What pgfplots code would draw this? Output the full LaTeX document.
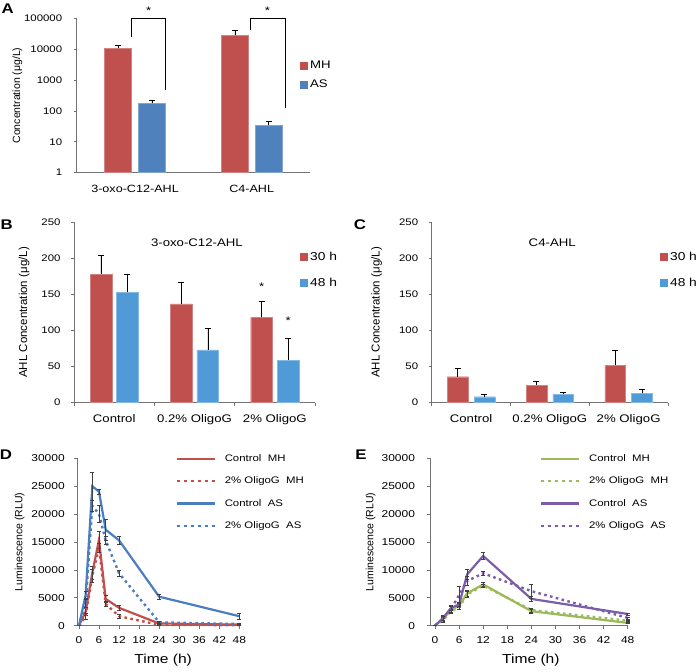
\documentclass[border=0pt]{standalone}
\usepackage{fontspec}
\setmainfont{Liberation Sans}[FakeStretch=1.2]
\newfontfamily\ylfont{Liberation Sans}
\usepackage{pgfplots}
\pgfplotsset{compat=1.18}
\newcommand\FS[1]{\fontsize{#1}{#1}\selectfont}
\definecolor{cRed}{HTML}{C0504D}
\definecolor{cBlue}{HTML}{4F81BD}
\definecolor{cBlueL}{RGB}{80,155,215}
\definecolor{cBlueD}{HTML}{4A7EC0}
\definecolor{cGreen}{HTML}{9BBB59}
\definecolor{cPurple}{HTML}{7B5EA7}
\pgfplotsset{
  exbase/.style={
    scale only axis, anchor=south west, clip=false,
    axis x line*=bottom, axis y line*=left,
    axis line style={black!55, line width=0.7pt},
    tick style={black!55, line width=0.7pt},
    tick align=outside, major tick length=3pt,
    /pgf/number format/assume math mode=true,
    /pgf/number format/1000 sep={},
    scaled y ticks=false,
    ticklabel style={font=\FS{9.5}},
    ylabel style={font=\ylfont\FS{10.5}},
    error bars/error bar style={black, line width=0.5pt},
    error bars/error mark options={rotate=90, black, mark size=3pt, line width=0.5pt},
    legend cell align=left,
  },
  sqbar/.style={ybar, bar shift=0pt, draw=#1!70!white, fill=#1, line width=0.4pt,
     legend image code/.code={\fill[#1] (0pt,-3.5pt) rectangle (7pt,3.5pt);}},
  lnsolid/.style={#1, line width=2.2pt, no markers,
     error bars/error bar style={black!75, line width=0.5pt},
     error bars/error mark options={rotate=90, black!75, mark size=2pt, line width=0.5pt},
     legend image code/.code={\draw[#1, line width=2.2pt] (0pt,0pt) -- (38pt,0pt);}},
  lndot/.style={#1, line width=2.4pt, no markers, dash pattern=on 2.6pt off 3.4pt,
     error bars/error bar style={black!75, line width=0.5pt, solid},
     error bars/error mark options={rotate=90, black!75, mark size=2pt, line width=0.5pt, solid},
     legend image code/.code={\draw[#1, line width=2.4pt, dash pattern=on 3pt off 4pt] (0pt,0pt) -- (38pt,0pt);}},
}
\begin{document}
\begin{tikzpicture}
\useasboundingbox (0,0) rectangle (700pt,671pt);

% panel letters
\node[font=\bfseries\FS{14}] at (7.7pt,662.7pt) {A};
\node[font=\bfseries\FS{14}] at (6.7pt,446pt) {B};
\node[font=\bfseries\FS{14}] at (360pt,446pt) {C};
\node[font=\bfseries\FS{14}] at (6pt,216pt) {D};
\node[font=\bfseries\FS{14}] at (361pt,216pt) {E};

% ---------------- A ----------------
\begin{axis}[exbase, at={(76.7pt,498.3pt)}, width=233.3pt, height=154.4pt,
  ymode=log, ymin=1, ymax=100000, log origin=infty,
  ytick={1,10,100,1000,10000,100000}, yticklabels={1,10,100,1000,10000,100000},
  yticklabel style={xshift=-8pt},
  yminorticks=false,
  xmin=-0.5, xmax=1.5, xtick={0,1}, xticklabels={3-oxo-C12-AHL,C4-AHL},
  x tick style={draw=none}, xticklabel style={font=\FS{10.5}, yshift=-6pt},
  bar width=0.23,
  ylabel={Concentration (μg/L)},
  ylabel style={at={(axis description cs:-0.254,0.5)}, anchor=center},
  legend style={draw=none, fill=none, at={(axis description cs:0.957,0.735)}, anchor=north west,
    inner sep=0pt, row sep=7pt, font=\FS{11}, nodes={inner sep=1.5pt},
    /tikz/every odd column/.append style={column sep=1pt}},
]
\addplot[sqbar=cRed, error bars/.cd, y dir=plus, y explicit]
  coordinates {(-0.145,10700) +- (0,2800) (0.855,28600) +- (0,12900)};
\addlegendentry{MH}
\addplot[sqbar=cBlue, error bars/.cd, y dir=plus, y explicit]
  coordinates {(0.145,176) +- (0,38) (1.145,35) +- (0,13)};
\addlegendentry{AS}
\draw[black, line width=0.8pt] (axis cs:-0.028,25000) |- (axis cs:0.263,100000) -- (axis cs:0.263,475);
\draw[black, line width=0.8pt] (axis cs:0.985,41500) |- (axis cs:1.285,100000) -- (axis cs:1.285,124);
\node[font=\FS{11}, anchor=base, yshift=3.5pt] at (axis cs:0.117,100000) {*};
\node[font=\FS{11}, anchor=base, yshift=3.5pt] at (axis cs:1.135,100000) {*};
\end{axis}

% ---------------- B ----------------
\begin{axis}[exbase, at={(74pt,268.3pt)}, width=241pt, height=180.5pt,
  ymin=0, ymax=250, ytick={0,50,...,250}, yticklabel style={xshift=-7pt},
  xmin=-0.5, xmax=2.5, xtick={-0.5,0.5,1.5,2.5}, xticklabels={},
  extra x ticks={0,1,2}, extra x tick labels={Control,0.2\% OligoG,2\% OligoG},
  extra x tick style={tick style={draw=none}, xticklabel style={font=\FS{11}, yshift=-5pt}},
  bar width=0.27,
  ylabel={AHL Concentration (μg/L)},
  ylabel style={font=\ylfont\FS{11.5}, at={(axis description cs:-0.207,0.5)}, anchor=center},
  legend style={draw=none, fill=none, at={(axis description cs:0.938,0.845)}, anchor=north west,
    inner sep=0pt, row sep=13pt, font=\FS{11.5}, nodes={inner sep=1.5pt},
    /tikz/every odd column/.append style={column sep=1pt}},
]
\addplot[sqbar=cRed, error bars/.cd, y dir=plus, y explicit]
  coordinates {(-0.165,178) +- (0,26) (0.835,137) +- (0,30) (1.835,118) +- (0,22)};
\addlegendentry{30 h}
\addplot[sqbar=cBlueL, error bars/.cd, y dir=plus, y explicit]
  coordinates {(0.165,153) +- (0,25) (1.165,73) +- (0,30) (2.165,59) +- (0,30)};
\addlegendentry{48 h}
\node[font=\FS{11}] at (axis cs:1.03,221) {3-oxo-C12-AHL};
\node[font=\FS{11}, anchor=center] at (axis cs:1.835,160) {*};
\node[font=\FS{11}, anchor=center] at (axis cs:2.165,113) {*};
\end{axis}

% ---------------- C ----------------
\begin{axis}[exbase, at={(431.7pt,268.3pt)}, width=236.3pt, height=180.5pt,
  ymin=0, ymax=250, ytick={0,50,...,250}, yticklabel style={xshift=-7pt},
  xmin=-0.5, xmax=2.5, xtick={-0.5,0.5,1.5,2.5}, xticklabels={},
  extra x ticks={0,1,2}, extra x tick labels={Control,0.2\% OligoG,2\% OligoG},
  extra x tick style={tick style={draw=none}, xticklabel style={font=\FS{11}, yshift=-5pt}},
  bar width=0.263,
  ylabel={AHL Concentration (μg/L)},
  ylabel style={font=\ylfont\FS{11.5}, at={(axis description cs:-0.233,0.5)}, anchor=center},
  legend style={draw=none, fill=none, at={(axis description cs:0.966,0.845)}, anchor=north west,
    inner sep=0pt, row sep=13pt, font=\FS{11.5}, nodes={inner sep=1.5pt},
    /tikz/every odd column/.append style={column sep=1pt}},
]
\addplot[sqbar=cRed, error bars/.cd, y dir=plus, y explicit]
  coordinates {(-0.17,36) +- (0,11.6) (0.83,24.5) +- (0,5.5) (1.83,52) +- (0,20)};
\addlegendentry{30 h}
\addplot[sqbar=cBlueL, error bars/.cd, y dir=plus, y explicit]
  coordinates {(0.17,8.3) +- (0,3.3) (1.17,11.6) +- (0,2.8) (2.17,13) +- (0,5.6)};
\addlegendentry{48 h}
\node[font=\FS{11}] at (axis cs:1.03,221) {C4-AHL};
\end{axis}

% ---------------- D ----------------
\begin{axis}[exbase, at={(77.3pt,45.3pt)}, width=162pt, height=167.4pt,
  xmin=-0.5, xmax=48, xtick={0,6,...,48},
  ymin=0, ymax=30000, ytick={0,5000,...,30000},
  ticklabel style={font=\FS{10}}, yticklabel style={xshift=-6pt}, xticklabel style={yshift=-4pt},
  xlabel={Time (h)}, xlabel style={font=\FS{13}, at={(axis description cs:0.53,-0.205)}, anchor=center},
  ylabel={Luminescence (RLU)},
  ylabel style={at={(axis description cs:-0.356,0.5)}, anchor=center},
  legend style={draw=none, fill=none, at={(axis description cs:0.604,1.03)}, anchor=north west,
    inner sep=0pt, row sep=12pt, font=\FS{9.5}, nodes={inner sep=1pt},
    /tikz/every odd column/.append style={column sep=8pt}},
]
\addplot[lnsolid=cRed, error bars/.cd, y dir=both, y explicit] coordinates {
 (0,0) +- (0,0) (2,2500) +- (0,700) (4,9500) +- (0,1200) (6,15400) +- (0,1500)
 (8,4800) +- (0,600) (12,3200) +- (0,400) (24,400) +- (0,200) (48,200) +- (0,100)};
\addlegendentry{Control\ \ MH}
\addplot[lndot=cRed, error bars/.cd, y dir=both, y explicit] coordinates {
 (0,0) +- (0,0) (2,1700) +- (0,500) (4,9000) +- (0,1200) (6,14000) +- (0,800)
 (8,3900) +- (0,500) (12,1700) +- (0,300) (24,150) +- (0,100) (48,100) +- (0,80)};
\addlegendentry{2\% OligoG\ \ MH}
\addplot[lnsolid=cBlueD, error bars/.cd, y dir=both, y explicit] coordinates {
 (0,0) +- (0,0) (2,5500) +- (0,600) (4,25000) +- (0,2500) (6,24000) +- (0,400)
 (8,17200) +- (0,1800) (12,15300) +- (0,700) (24,5200) +- (0,500) (48,1700) +- (0,500)};
\addlegendentry{Control\ \ AS}
\addplot[lndot=cBlueD, error bars/.cd, y dir=both, y explicit] coordinates {
 (0,0) +- (0,0) (2,4000) +- (0,700) (4,21500) +- (0,1000) (6,20000) +- (0,1500)
 (8,15300) +- (0,700) (12,9400) +- (0,600) (24,600) +- (0,200) (48,300) +- (0,100)};
\addlegendentry{2\% OligoG\ \ AS}
\end{axis}

% ---------------- E ----------------
\begin{axis}[exbase, at={(430pt,45.3pt)}, width=197.7pt, height=167.4pt,
  xmin=-1.25, xmax=48, xtick={0,6,...,48},
  ymin=0, ymax=30000, ytick={0,5000,...,30000},
  ticklabel style={font=\FS{10}}, yticklabel style={xshift=-8.5pt}, xticklabel style={yshift=-4pt},
  xlabel={Time (h)}, xlabel style={font=\FS{13}, at={(axis description cs:0.51,-0.205)}, anchor=center},
  ylabel={Luminescence (RLU)},
  ylabel style={at={(axis description cs:-0.30,0.5)}, anchor=center},
  legend style={draw=none, fill=none, at={(axis description cs:0.554,1.03)}, anchor=north west,
    inner sep=0pt, row sep=12pt, font=\FS{9.5}, nodes={inner sep=1pt},
    /tikz/every odd column/.append style={column sep=8pt}},
]
\addplot[lnsolid=cGreen, error bars/.cd, y dir=both, y explicit] coordinates {
 (0,0) +- (0,0) (2,1200) +- (0,400) (4,2800) +- (0,400) (6,3600) +- (0,300)
 (8,5800) +- (0,600) (12,7400) +- (0,300) (24,2600) +- (0,300) (48,500) +- (0,100)};
\addlegendentry{Control\ \ MH}
\addplot[lndot=cGreen, error bars/.cd, y dir=both, y explicit] coordinates {
 (0,0) +- (0,0) (2,1000) +- (0,300) (4,2600) +- (0,400) (6,3300) +- (0,400)
 (8,5600) +- (0,500) (12,7200) +- (0,300) (24,2800) +- (0,300) (48,900) +- (0,100)};
\addlegendentry{2\% OligoG\ \ MH}
\addplot[lnsolid=cPurple, error bars/.cd, y dir=both, y explicit] coordinates {
 (0,0) +- (0,0) (2,1400) +- (0,500) (4,3200) +- (0,400) (6,3800) +- (0,400)
 (8,9200) +- (0,900) (12,12500) +- (0,600) (24,4800) +- (0,400) (48,2100) +- (0,200)};
\addlegendentry{Control\ \ AS}
\addplot[lndot=cPurple, error bars/.cd, y dir=both, y explicit] coordinates {
 (0,0) +- (0,0) (2,1300) +- (0,400) (4,3000) +- (0,500) (6,5500) +- (0,1500)
 (8,8000) +- (0,800) (12,9400) +- (0,300) (24,6200) +- (0,1200) (48,1400) +- (0,200)};
\addlegendentry{2\% OligoG\ \ AS}
\end{axis}
\end{tikzpicture}
\end{document}
